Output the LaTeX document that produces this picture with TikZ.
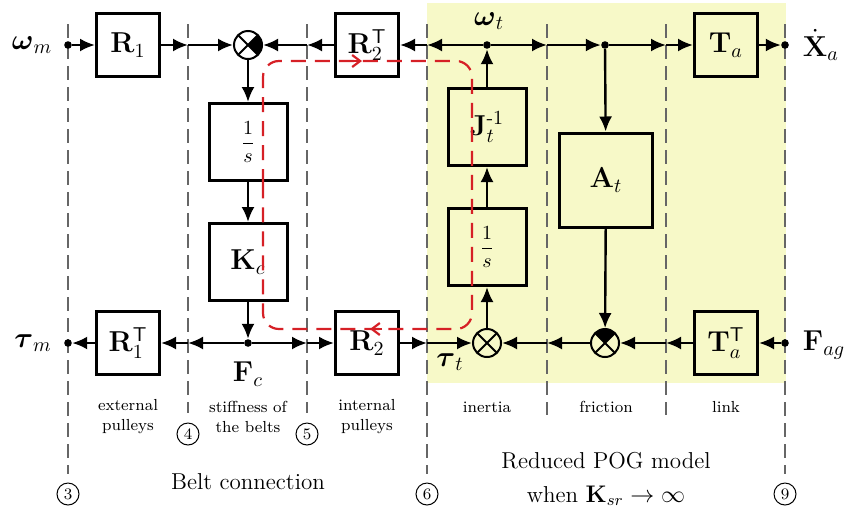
\documentclass[tikz,border=0pt]{standalone}
\usepackage{amsmath,amssymb}
\usepackage{tikz}
\usetikzlibrary{arrows.meta,calc}

\definecolor{pogyel}{RGB}{247,249,200}
\definecolor{loopred}{RGB}{214,32,38}

\tikzset{
  blk/.style={draw,line width=1.5pt,minimum width=31.5pt,minimum height=31.5pt,inner sep=0pt,font=\Large},
  bigblk/.style={blk,minimum width=39pt,minimum height=38.5pt},
  sumnd/.style={circle,draw,line width=1pt,minimum size=14pt,inner sep=0pt,
    path picture={\draw[line width=1pt] (path picture bounding box.north west) -- (path picture bounding box.south east)
      (path picture bounding box.north east) -- (path picture bounding box.south west);}},
  dotnd/.style={circle,fill,inner sep=0pt,minimum size=3.8pt},
  sig/.style={line width=1.2pt,-{Latex[length=7.5pt,width=6.5pt]}},
  sect/.style={black!60,line width=0.6pt,dash pattern=on 7pt off 3.5pt},
  numnd/.style={circle,draw,line width=0.5pt,inner sep=0pt,minimum size=11pt,font=\footnotesize},
  seclbl/.style={font=\fontsize{8}{10}\selectfont,align=center},
  siglbl/.style={font=\Large},
  biglbl/.style={font=\fontsize{11.5}{15}\selectfont,align=center},
  redloop/.style={loopred,line width=1.1pt,dash pattern=on 7.5pt off 4.5pt,rounded corners=8pt},
}

\begin{document}
\begin{tikzpicture}[x=0.5pt,y=-0.5pt]
\useasboundingbox (0,0) rectangle (845,515);

% reduced POG part
\fill[pogyel] (427,3) rectangle (786,383);

% section lines
\draw[sect] (68,24) -- (68,474);
\draw[sect] (188,24) -- (188,413);
\draw[sect] (307,24) -- (307,413);
\draw[sect] (427,24) -- (427,474);
\draw[sect] (547,24) -- (547,415);
\draw[sect] (666,24) -- (666,415);
\draw[sect] (785,24) -- (785,474);

\node[numnd] (n3) at (68,494) {3};
\node[numnd] (n4) at (188,434) {4};
\node[numnd] (n5) at (307,434) {5};
\node[numnd] (n6) at (427,494) {6};
\node[numnd] (n9) at (785,494) {9};

\foreach \nm/\xx in {l4/188,l5/307,l6/427,l7/547,l8/666}{
  \coordinate (\nm t) at (\xx,45);
  \coordinate (\nm b) at (\xx,343);
}

% blocks
\node[blk] (R1) at (128,45) {$\mathbf{R}_1$};
\node[blk] (R2T) at (367,45) {$\mathbf{R}_2^{\mathsf{T}}$};
\node[blk] (Ta) at (726,45) {$\mathbf{T}_a$};
\node[blk] (R1T) at (128,343) {$\mathbf{R}_1^{\mathsf{T}}$};
\node[blk] (R2) at (367,343) {$\mathbf{R}_2$};
\node[blk] (TaT) at (726,343) {$\mathbf{T}_a^{\mathsf{T}}$};
\node[bigblk,font=\normalsize] (Is1) at (248,142) {$\dfrac{1}{s}$};
\node[bigblk] (Kc) at (248,262) {$\mathbf{K}_c$};
\node[bigblk] (Jt) at (487,127) {$\mathbf{J}_t^{\text{-}1}$};
\node[bigblk,font=\normalsize] (Is2) at (487,247) {$\dfrac{1}{s}$};
\node[blk,minimum width=46.5pt,minimum height=47pt] (At) at (606,180) {$\mathbf{A}_t$};

% junctions
\node[sumnd] (S1) at (248,45) {};
\node[sumnd] (S2) at (487,343) {};
\node[sumnd] (S3) at (605,343) {};
\begin{scope}
  \clip (S1.center) circle (7pt);
  \fill (S1.center) -- ++(-45:10pt) -- ++(90:14.2pt) -- cycle;
\end{scope}
\begin{scope}
  \clip (S3.center) circle (7pt);
  \fill (S3.center) -- ++(45:10pt) -- ++(180:14.2pt) -- cycle;
\end{scope}

\node[dotnd] (wm) at (68,45) {};
\node[dotnd] (tm) at (68,343) {};
\node[dotnd] (wt) at (487,45) {};
\node[dotnd] (dA) at (605,45) {};
\node[dotnd] (xa) at (785,45) {};
\node[dotnd] (fc) at (248,343) {};
\node[dotnd] (fag) at (785,343) {};

% top line
\draw[sig] (wm) -- (R1);
\draw[sig] (R1) -- (l4t);
\draw[sig] (l4t) -- (S1);
\draw[sig] (R2T) -- (l5t);
\draw[sig] (l5t) -- (S1);
\draw[sig] (l6t) -- (R2T);
\draw[sig] (wt) -- (l6t);
\draw[sig] (wt) -- (l7t);
\draw[sig] (l7t) -- (dA);
\draw[sig] (dA) -- (l8t);
\draw[sig] (l8t) -- (Ta);
\draw[sig] (Ta) -- (xa);

% vertical branches
\draw[sig] (S1) -- (Is1);
\draw[sig] (Is1) -- (Kc);
\draw[sig] (Kc) -- (fc);
\draw[sig] (S2) -- (Is2);
\draw[sig] (Is2) -- (Jt);
\draw[sig] (Jt) -- (wt);
\draw[sig] (dA) -- (At);
\draw[sig] (At) -- (S3);

% bottom line
\draw[sig] (fag) -- (TaT);
\draw[sig] (TaT) -- (l8b);
\draw[sig] (l8b) -- (S3);
\draw[sig] (S3) -- (l7b);
\draw[sig] (l7b) -- (S2);
\draw[sig] (R2) -- (l6b);
\draw[sig] (l6b) -- (S2);
\draw[sig] (fc) -- (l5b);
\draw[sig] (l5b) -- (R2);
\draw[sig] (fc) -- (l4b);
\draw[sig] (l4b) -- (R1T);
\draw[sig] (R1T) -- (tm);

% loop
\draw[redloop] (263,200) -- (263,61) -- (472,61) -- (472,329) -- (263,329) -- cycle;
\draw[loopred,line width=1.1pt,-{Straight Barb[length=4pt,width=6pt]}] (350,61) -- (362,61);
\draw[loopred,line width=1.1pt,-{Straight Barb[length=4pt,width=6pt]}] (382,329) -- (370,329);

% signals
\node[siglbl] (lwm) at (32,45) {$\boldsymbol{\omega}_m$};
\node[siglbl] (ltm) at (33,343) {$\boldsymbol{\tau}_m$};
\node[siglbl] (lxa) at (821,45) {$\dot{\mathbf{X}}_a$};
\node[siglbl] (lfag) at (824,345) {$\mathbf{F}_{ag}$};
\node[siglbl] (lwt) at (489,21) {$\boldsymbol{\omega}_t$};
\node[siglbl] (lfc) at (248,374) {$\mathbf{F}_c$};
\node[siglbl] (ltt) at (450,362) {$\boldsymbol{\tau}_t$};

\node[seclbl] (s1) at (128,417) {external\\pulleys};
\node[seclbl] (s2) at (248,417) {stiffness of\\the belts};
\node[seclbl] (s3) at (367,417) {internal\\pulleys};
\node[seclbl] (s4) at (487,407) {inertia};
\node[seclbl] (s5) at (606,407) {friction};
\node[seclbl] (s6) at (726,407) {link};

\node[biglbl] (belt) at (248,482) {Belt connection};
\node[biglbl] (pog) at (606,479) {Reduced POG model\\[2pt] when $\mathbf{K}_{sr}\rightarrow\infty$};
\end{tikzpicture}
\end{document}
